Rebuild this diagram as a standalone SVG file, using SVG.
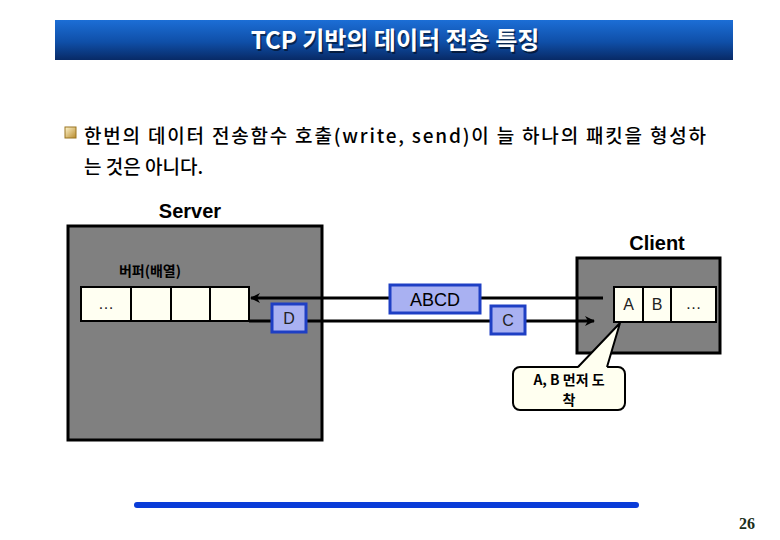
<svg xmlns="http://www.w3.org/2000/svg" width="780" height="540" viewBox="0 0 780 540">
<defs>
<linearGradient id="tg" x1="0" y1="0" x2="0" y2="1">
<stop offset="0" stop-color="#1C6ED6"/>
<stop offset="0.55" stop-color="#0F4FA8"/>
<stop offset="1" stop-color="#082A66"/>
</linearGradient>
<linearGradient id="bq" x1="0" y1="0" x2="1" y2="1">
<stop offset="0" stop-color="#FFF6D0"/>
<stop offset="1" stop-color="#B88A2A"/>
</linearGradient>
<marker id="ah" viewBox="0 0 10 10" refX="9" refY="5" markerWidth="10" markerHeight="10" markerUnits="userSpaceOnUse" orient="auto">
<path d="M0,0 L10,5 L0,10 L3,5 Z" fill="#000"/>
</marker>
<style>
.k{font-family:"Noto Sans CJK KR","Liberation Sans",sans-serif}
.box{fill:#808080;stroke:#000;stroke-width:3}
.cell{fill:#FFFFF2;stroke:#000;stroke-width:2}
.pkt{fill:#A9B1F2;stroke:#1E3FC4;stroke-width:3}
.ln{stroke:#000;stroke-width:3;fill:none}
.lbl{font-family:"Liberation Sans","Noto Sans CJK KR",sans-serif;font-weight:bold;fill:#000}
.ct{font-family:"Liberation Sans",sans-serif;font-size:16px;fill:#222;text-anchor:middle}
</style>
</defs>
<rect width="780" height="540" fill="#fff"/>

<g id="title">
<rect x="55" y="20" width="678" height="40" fill="url(#tg)"/>
<text x="395" y="49" class="k" font-size="24" font-weight="bold" fill="#000" opacity="0.5" text-anchor="middle" transform="translate(1.5,1.5)">TCP 기반의 데이터 전송 특징</text>
<text x="395" y="49" class="k" font-size="24" font-weight="bold" fill="#fff" text-anchor="middle">TCP 기반의 데이터 전송 특징</text>
</g>

<g id="bullet">
<rect x="65" y="127" width="11" height="11" fill="url(#bq)" stroke="#9A7420" stroke-width="1"/>
<text x="84" y="143" class="k" font-size="19" font-weight="500" fill="#000" textLength="622" lengthAdjust="spacing">한번의 데이터 전송함수 호출(write, send)이 늘 하나의 패킷을 형성하</text>
<text x="84" y="174" class="k" font-size="19" font-weight="500" fill="#000">는 것은 아니다.</text>
</g>

<g id="server">
<text x="190" y="218" class="lbl" font-size="20" text-anchor="middle">Server</text>
<rect class="box" x="68" y="226" width="254" height="214"/>
<text x="150" y="276" class="k" font-size="14" font-weight="bold" text-anchor="middle">버퍼(배열)</text>
<rect class="cell" x="81" y="287" width="50" height="34"/>
<rect class="cell" x="131" y="287" width="40" height="34"/>
<rect class="cell" x="171" y="287" width="39" height="34"/>
<rect class="cell" x="210" y="287" width="39" height="34"/>
<text x="106" y="309" class="ct" font-size="11">…</text>
</g>

<g id="client">
<text x="657" y="250" class="lbl" font-size="20" text-anchor="middle">Client</text>
<rect class="box" x="577" y="258" width="143" height="95"/>
<rect class="cell" x="614" y="287" width="29" height="35"/>
<rect class="cell" x="643" y="287" width="28" height="35"/>
<rect class="cell" x="671" y="287" width="45" height="35"/>
<text x="628.5" y="310" class="ct">A</text>
<text x="657" y="310" class="ct">B</text>
<text x="693.5" y="309" class="ct" font-size="11">…</text>
</g>

<g id="connectors">
<line class="ln" x1="603" y1="298" x2="251" y2="298" marker-end="url(#ah)"/>
<line class="ln" x1="249" y1="321" x2="594" y2="321" marker-end="url(#ah)"/>
</g>

<g id="packet-D">
<rect class="pkt" x="272" y="304" width="34" height="28"/>
<text x="289" y="324" class="ct">D</text>
</g>
<g id="packet-ABCD">
<rect class="pkt" x="390" y="285" width="90" height="28"/>
<text x="435" y="306" class="lbl" font-size="18" text-anchor="middle" fill="#111" style="font-weight:normal">ABCD</text>
</g>
<g id="packet-C">
<rect class="pkt" x="491" y="306" width="34" height="28"/>
<text x="508" y="326" class="ct">C</text>
</g>

<g id="callout">
<rect x="513" y="367" width="112" height="43" rx="7" fill="#FFFFF0" stroke="#000" stroke-width="2"/>
<polygon points="578,368 620,323 607,368" fill="#FFFFF0"/>
<polyline points="578,367 620,323 607,367" fill="none" stroke="#000" stroke-width="2"/>
<text x="569" y="385" class="k" font-size="14" font-weight="bold" text-anchor="middle">A, B 먼저 도</text>
<text x="569" y="405" class="k" font-size="14" font-weight="bold" text-anchor="middle">착</text>
</g>

<g id="footer">
<line x1="137" y1="505" x2="636" y2="505" stroke="#0A3CD8" stroke-width="6" stroke-linecap="round"/>
<text x="755" y="529" font-family="Liberation Serif,serif" font-weight="bold" font-size="16" fill="#1A2E1A" text-anchor="end">26</text>
</g>
</svg>
